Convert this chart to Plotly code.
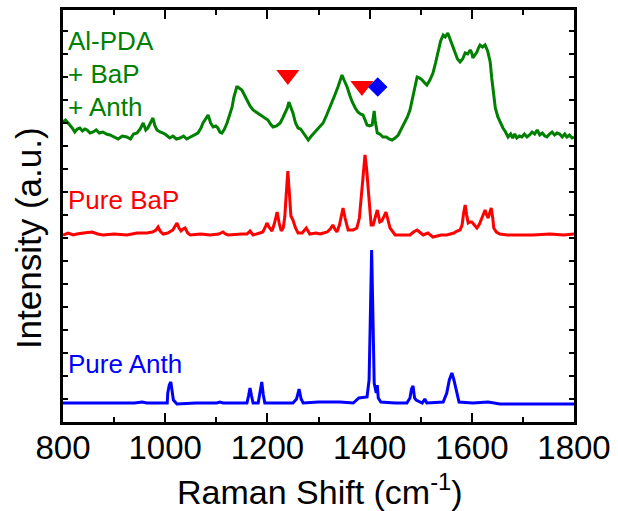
import plotly.graph_objects as go

# ---- data (Raman shift in cm^-1, stacked intensity in a.u.) ----
green_x = [800,805,810,815,818,823,828,833,838,843,847,853,859,865,871,878,885,892,900,908,916,925,932,938,945,951,957,962,966,971,976,980,984,990,996,1002,1009,1015,1022,1029,1036,1042,1049,1056,1064,1070,1074,1079,1084,1089,1094,1099,1103,1107,1111,1116,1121,1126,1131,1134,1137,1140,1142,1146,1150,1155,1160,1166,1172,1178,1186,1193,1201,1206,1211,1218,1225,1230,1234,1239,1242,1246,1250,1255,1260,1265,1270,1275,1280,1286,1293,1300,1305,1309,1316,1323,1328,1332,1338,1343,1346,1350,1356,1361,1366,1372,1377,1382,1387,1392,1395,1400,1405,1407,1409,1411,1415,1420,1426,1433,1438,1444,1450,1456,1462,1469,1474,1479,1484,1488,1493,1498,1503,1508,1512,1518,1524,1529,1534,1539,1544,1548,1553,1558,1563,1568,1572,1577,1582,1587,1592,1597,1600,1602,1606,1610,1613,1616,1621,1626,1631,1636,1639,1642,1646,1651,1656,1661,1666,1671,1676,1680,1684,1688,1693,1698,1703,1708,1713,1718,1723,1728,1733,1738,1743,1747,1752,1757,1762,1767,1772,1777,1782,1786,1791,1796,1800]
green_y = [301,303,300,297,295,291,294,295,292,294,293,290,291,293,290,291,289,288,286,284,287,286,284,289,290,294,300,293,295,300,305,297,293,291,290,288,285,287,284,285,287,284,286,288,290,295,300,304,308,300,296,297,295,291,290,294,300,308,316,325,331,336,336,334,333,328,323,317,313,311,308,306,303,299,296,297,300,305,310,315,321,316,310,300,295,294,290,286,283,287,291,295,298,300,308,316,322,328,336,344,348,343,336,328,321,315,311,309,308,302,298,297,298,305,312,302,290,289,286,286,284,283,285,288,294,301,306,313,324,336,346,345,343,340,338,343,350,360,370,382,388,386,390,383,375,368,364,361,364,370,369,373,370,365,368,371,375,378,376,378,372,361,345,330,315,306,300,295,291,286,289,285,289,285,287,286,289,286,288,291,289,293,288,290,287,286,289,291,288,290,289,286,289,286,288,285,286]

red_x = [800,810,820,827,840,857,868,878,900,925,945,964,975,982,986,990,996,1005,1015,1020,1023,1027,1031,1035,1039,1044,1049,1070,1088,1105,1113,1118,1123,1150,1160,1166,1172,1185,1191,1196,1199,1203,1209,1214,1219,1223,1227,1231,1234,1237,1240,1243,1246,1250,1255,1260,1268,1276,1283,1295,1303,1310,1317,1323,1328,1332,1336,1341,1345,1348,1352,1356,1358,1368,1375,1380,1385,1388,1391,1394,1397,1400,1403,1407,1411,1415,1418,1420,1424,1428,1432,1436,1440,1450,1465,1479,1486,1493,1500,1505,1514,1524,1540,1551,1565,1571,1577,1581,1584,1587,1590,1593,1597,1600,1605,1610,1615,1620,1624,1626,1629,1632,1635,1638,1641,1643,1648,1655,1670,1688,1720,1753,1780,1800]
red_y = [188,190,188,189,190,191,189,188,189,188,190,190,191,193,196,192,189,190,193,197,200,195,192,194,195,190,188,189,188,189,191,189,188,189,189,192,188,190,191,196,200,196,192,200,211,200,192,195,206,230,252,230,207,203,195,190,190,195,189,190,189,190,191,194,198,194,191,198,210,215,205,195,193,193,195,205,233,255,268,255,233,210,198,198,205,213,206,201,202,207,211,203,195,188,188,188,191,193,190,188,190,186,188,188,190,192,193,198,210,218,208,200,201,201,198,195,199,205,211,213,208,205,210,215,205,195,191,189,188,188,188,189,188,189]

blue_x = [800,850,912,940,955,964,990,1004,1005,1008,1011,1014,1016,1023,1060,1101,1107,1113,1160,1163,1166,1169,1172,1182,1185,1189,1192,1195,1220,1250,1257,1262,1266,1270,1300,1342,1368,1379,1395,1399,1402,1404,1406,1409,1413,1415,1417,1422,1450,1473,1479,1482,1485,1488,1491,1503,1508,1512,1544,1551,1556,1561,1565,1569,1575,1602,1632,1655,1700,1800]
blue_y = [20,20,20,20,21,20,20,20,30,38,41,32,23,19,20,20,21,20,20,27,35,27,20,20,28,41,28,20,20,20,24,34,24,20,21,21,20,25,26,43,120,173,120,40,30,38,25,21,20,20,25,34,37,25,23,20,24,20,21,30,43,50,43,33,21,20,21,19,19,19]

# band markers
tri_x = [1240, 1385]
tri_y = [348, 337]
dia_x = [1416]
dia_y = [336]

x_ticks = [800, 1000, 1200, 1400, 1600, 1800]

GREEN = "rgb(0,128,0)"
RED = "rgb(255,0,0)"
BLUE = "rgb(0,0,255)"
FONT = "Liberation Sans, Arial, sans-serif"

fig = go.Figure()
fig.add_trace(go.Scatter(x=green_x, y=green_y, mode="lines", line=dict(color=GREEN, width=3)))
fig.add_trace(go.Scatter(x=red_x, y=red_y, mode="lines", line=dict(color=RED, width=3)))
fig.add_trace(go.Scatter(x=blue_x, y=blue_y, mode="lines", line=dict(color=BLUE, width=3)))
fig.add_trace(go.Scatter(x=tri_x, y=tri_y, mode="markers",
                         marker=dict(symbol="triangle-down", size=20, color=RED, line=dict(width=0))))
fig.add_trace(go.Scatter(x=dia_x, y=dia_y, mode="markers",
                         marker=dict(symbol="diamond", size=15, color=BLUE, line=dict(width=0))))

ann = [
    ("Al-PDA", 806, 382, GREEN),
    ("+ BaP", 806, 349, GREEN),
    ("+ Anth", 806, 316, GREEN),
    ("Pure BaP", 806, 223, RED),
    ("Pure Anth", 806, 59, BLUE),
]
for t, ax, ay, c in ann:
    fig.add_annotation(x=ax, y=ay, xref="x", yref="y", text=t, showarrow=False,
                       xanchor="left", yanchor="middle",
                       font=dict(family=FONT, size=26, color=c))

# axis titles
fig.add_annotation(x=0.503, y=-0.163, xref="paper", yref="paper",
                   text="Raman Shift (cm<sup>-1</sup>)", showarrow=False,
                   xanchor="center", yanchor="middle",
                   font=dict(family=FONT, size=34, color="black"))
fig.add_annotation(x=-0.066, y=0.447, xref="paper", yref="paper",
                   text="Intensity (a.u.)", showarrow=False, textangle=-90,
                   xanchor="center", yanchor="middle",
                   font=dict(family=FONT, size=35, color="black"))

fig.update_layout(
    width=618, height=511,
    margin=dict(l=63, r=44, t=10, b=89, autoexpand=False),
    paper_bgcolor="white", plot_bgcolor="white",
    showlegend=False,
    font=dict(family=FONT, color="black"),
)
fig.update_xaxes(
    range=[800, 1800], tickvals=x_ticks, ticktext=[str(v) for v in x_ticks],
    ticks="inside", ticklen=9, tickwidth=2, tickcolor="black",
    minor=dict(dtick=100, tick0=800, ticks="inside", ticklen=5, tickwidth=2, tickcolor="black"),
    showline=True, linewidth=2.5, linecolor="black", mirror="ticks",
    showgrid=False, zeroline=False, automargin=False,
    tickfont=dict(family=FONT, size=33, color="black"),
    ticklabelstandoff=-5,
)
fig.update_yaxes(
    range=[1, 413], showticklabels=False,
    ticks="inside", ticklen=5, tickwidth=1.5, tickcolor="black", dtick=23, tick0=1,
    showline=True, linewidth=2.5, linecolor="black", mirror="ticks",
    showgrid=False, zeroline=False, automargin=False,
)

fig.write_html("out.html", config={"displayModeBar": False},
               post_script="document.body.style.margin='0px';")
